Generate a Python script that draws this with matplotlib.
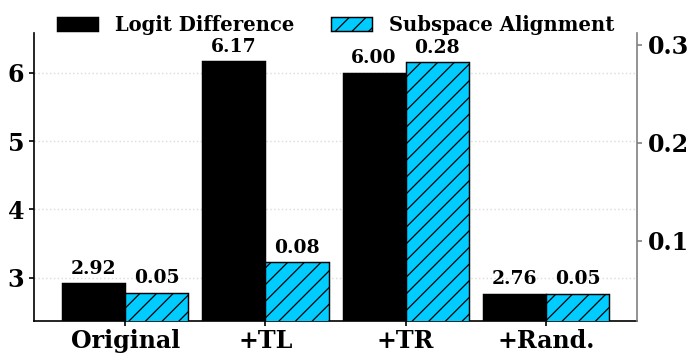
import numpy as np
import matplotlib
matplotlib.use("Agg")
import matplotlib.pyplot as plt

plt.rcParams['font.family'] = 'DejaVu Serif'
plt.rcParams['font.weight'] = 'bold'
plt.rcParams['hatch.linewidth'] = 0.6

categories = ['Original', '+TL', '+TR', '+Rand.']
logit_diff = [2.92, 6.17, 6.00, 2.76]
subspace_align = [0.047, 0.078, 0.282, 0.046]
logit_labels = ['2.92', '6.17', '6.00', '2.76']
align_labels = ['0.05', '0.08', '0.28', '0.05']

x = np.arange(len(categories))
w = 0.45

# original looks like a 150 dpi render, so work at that dpi
fig = plt.figure(figsize=(697 / 150, 363 / 150), dpi=150)
ax = fig.add_axes([0.0488, 0.1157, 0.8652, 0.7923])
ax2 = ax.twinx()

b1 = ax.bar(x - w / 2, logit_diff, w, color='black', edgecolor='black',
            linewidth=0.7, label='Logit Difference', zorder=3)
b2 = ax2.bar(x + w / 2, subspace_align, w, color='#00ccff', edgecolor='black',
             linewidth=0.7, hatch='///', label='Subspace Alignment', zorder=3)

for rect, lab in zip(b1, logit_labels):
    ax.annotate(lab, (rect.get_x() + rect.get_width() / 2, rect.get_height()),
                xytext=(0, 2.7), textcoords='offset points', ha='center', va='bottom',
                fontsize=9, fontweight='bold')
for rect, lab in zip(b2, align_labels):
    ax2.annotate(lab, (rect.get_x() + rect.get_width() / 2, rect.get_height()),
                 xytext=(0, 2.7), textcoords='offset points', ha='center', va='bottom',
                 fontsize=9, fontweight='bold')

ax.set_xlim(-0.65, 3.65)
ax.set_ylim(2.366, 6.577)
ax2.set_ylim(0.0182, 0.3115)
ax.set_yticks([3, 4, 5, 6])
ax2.set_yticks([0.1, 0.2, 0.3])
ax.set_xticks(x)
ax.set_xticklabels(categories)

ax.grid(axis='y', linestyle=':', color='#dddddd', linewidth=0.7, zorder=0)
ax.set_axisbelow(True)

ax.tick_params(axis='x', labelsize=11.4, length=2.2, pad=1.5)
ax.tick_params(axis='y', labelsize=11.4, length=2.2, pad=2.4)
ax2.tick_params(axis='y', labelsize=11.4, length=2.2, pad=2.8, color='gray')
for lab in ax.get_xticklabels() + ax.get_yticklabels() + ax2.get_yticklabels():
    lab.set_fontweight('bold')

ax.spines['top'].set_visible(False)
ax.spines['right'].set_visible(False)
ax2.spines['top'].set_visible(False)
ax2.spines['left'].set_visible(False)
ax2.spines['bottom'].set_visible(False)
ax2.spines['right'].set_color('gray')

h1, l1 = ax.get_legend_handles_labels()
h2, l2 = ax2.get_legend_handles_labels()
ax.legend(h1 + h2, l1 + l2, loc='center', bbox_to_anchor=(0.5, 1.03), ncol=2,
          frameon=False, prop={'weight': 'bold', 'size': 9.4},
          handlelength=2.1, handletextpad=0.85, columnspacing=1.9)

fig.savefig('out.png', dpi=150)
